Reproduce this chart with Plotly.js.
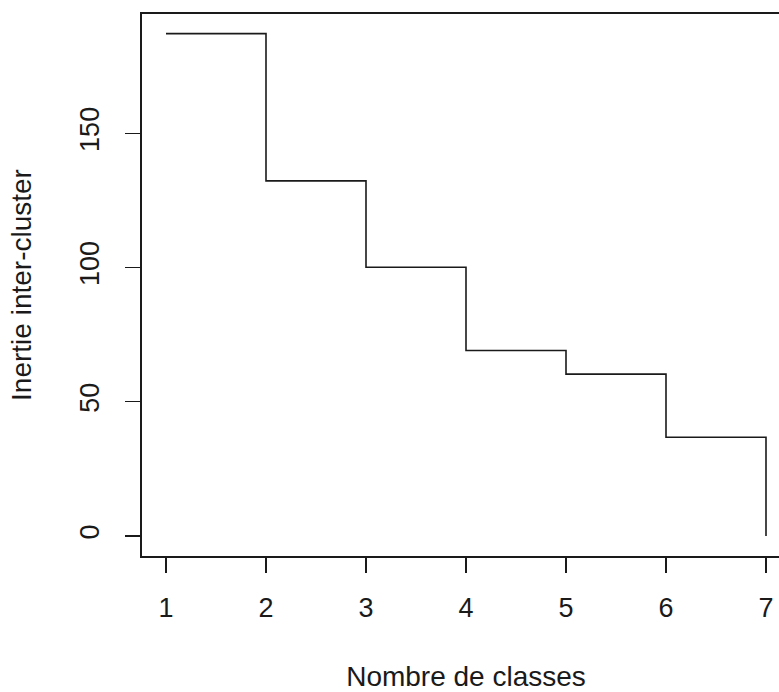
<!DOCTYPE html>
<html>
<head>
<meta charset="utf-8">
<script src="https://cdn.plot.ly/plotly-3.0.1.min.js"></script>
<style>
html,body{margin:0;padding:0;width:779px;height:692px;overflow:hidden;background:#fff;}
#chart{width:800px;height:692px;}
</style>
</head>
<body>
<div id="chart"></div>
<script>
var nbClasses = [1, 2, 3, 4, 5, 6, 7];
var inertie = [187.2, 132.3, 100.1, 69.1, 60.3, 36.8, 0];
var xTicks = [1, 2, 3, 4, 5, 6, 7];
var yTicks = [0, 50, 100, 150];

var trace = {
  x: nbClasses,
  y: inertie,
  type: 'scatter',
  mode: 'lines',
  line: {shape: 'hv', color: '#1a1a1a', width: 1.6},
  hoverinfo: 'x+y'
};

var layout = {
  width: 800,
  height: 692,
  margin: {l: 142, r: 10, t: 14, b: 136},
  paper_bgcolor: '#ffffff',
  plot_bgcolor: '#ffffff',
  showlegend: false,
  font: {family: 'Liberation Sans, Arial, sans-serif', color: '#1a1a1a', size: 27},
  xaxis: {
    range: [0.76, 7.24],
    tickvals: xTicks,
    ticktext: xTicks.map(String),
    ticks: 'outside',
    ticklen: 15,
    tickwidth: 1.3,
    tickcolor: '#1a1a1a',
    showgrid: false,
    zeroline: false,
    showline: true,
    linecolor: '#1a1a1a',
    linewidth: 1.6,
    mirror: true,
    automargin: false,
    ticklabelstandoff: 12,
    tickfont: {size: 27},
    title: {text: 'Nombre de classes', font: {size: 28}, standoff: 45}
  },
  yaxis: {
    range: [-7.48, 194.5],
    tickvals: yTicks,
    ticktext: yTicks.map(String),
    tickangle: -90,
    ticks: 'outside',
    ticklen: 15,
    tickwidth: 1.3,
    tickcolor: '#1a1a1a',
    showgrid: false,
    zeroline: false,
    showline: true,
    linecolor: '#1a1a1a',
    linewidth: 1.6,
    mirror: true,
    automargin: false,
    ticklabelstandoff: 16,
    tickfont: {size: 27},
    title: {text: 'Inertie inter-cluster', font: {size: 28}, standoff: 35}
  }
};

Plotly.newPlot('chart', [trace], layout, {displayModeBar: false, staticPlot: true});
</script>
</body>
</html>
